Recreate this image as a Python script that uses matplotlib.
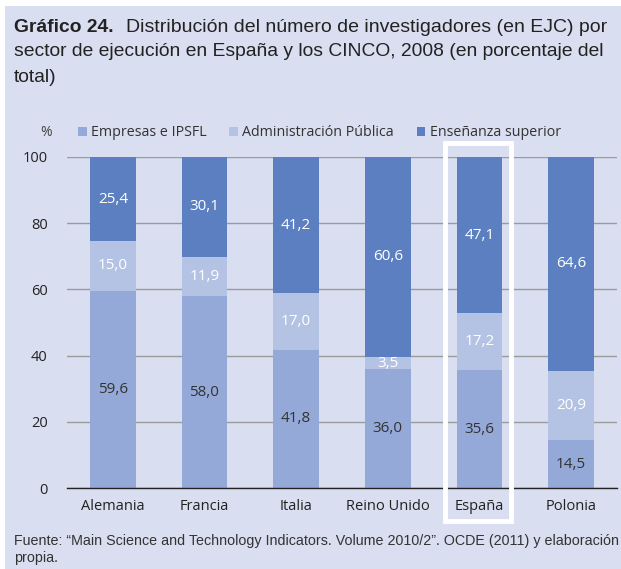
import matplotlib.pyplot as plt
import numpy as np
from matplotlib.patches import Rectangle

paises = ["Alemania", "Francia", "Italia", "Reino Unido", "España", "Polonia"]
empresas = [59.6, 58.0, 41.8, 36.0, 35.6, 14.5]
administracion = [15.0, 11.9, 17.0, 3.5, 17.2, 20.9]
ensenanza = [25.4, 30.1, 41.2, 60.6, 47.1, 64.6]
series_names = ["Empresas e IPSFL", "Administración Pública", "Enseñanza superior"]

bg = "#D9DEF0"
c_emp = "#94A9D8"
c_adm = "#B4C2E3"
c_ens = "#5B7FC0"

plt.rcParams['font.family'] = ['Open Sans', 'DejaVu Sans']

fig = plt.figure(figsize=(6.21, 5.69), dpi=100, facecolor="white")
fig.patches.append(Rectangle((5/621, 0), 1, 1 - 6/569, transform=fig.transFigure,
                             facecolor=bg, edgecolor="none", zorder=-10))

ax = fig.add_axes([67/621, 1 - 488/569, 550/621, (488 - 157)/569])
ax.patch.set_alpha(0)

x = np.arange(len(paises))
w = 0.5
emp = np.array(empresas)
adm = np.array(administracion)
ens = np.array(ensenanza)

ax.bar(x, emp, w, color=c_emp, label=series_names[0], zorder=3)
ax.bar(x, adm, w, bottom=emp, color=c_adm, label=series_names[1], zorder=3)
ax.bar(x, ens, w, bottom=emp + adm, color=c_ens, label=series_names[2], zorder=3)

def fmt(v):
    return f"{v:.1f}".replace(".", ",")

for i in range(len(paises)):
    ax.text(x[i], emp[i] / 2, fmt(emp[i]), ha="center", va="center",
            fontsize=11, color="#333333", zorder=4)
    ax.text(x[i], emp[i] + adm[i] / 2, fmt(adm[i]), ha="center", va="center",
            fontsize=11, color="white", zorder=4)
    ax.text(x[i], emp[i] + adm[i] + ens[i] / 2, fmt(ens[i]), ha="center", va="center",
            fontsize=11, color="white", zorder=4)

ax.set_xlim(-0.5, 5.5)
ax.set_ylim(0, 100)
ax.set_yticks([0, 20, 40, 60, 80, 100])
ax.set_xticks(x)
ax.set_xticklabels(paises)
ax.tick_params(axis="both", length=0, labelsize=10.5, colors="#222222")
ax.tick_params(axis="y", pad=14)
ax.tick_params(axis="x", pad=8)
ax.grid(axis="y", color="#9A9A9A", linewidth=1, zorder=1)
for s in ["top", "right", "left"]:
    ax.spines[s].set_visible(False)
ax.spines["bottom"].set_color("#222222")
ax.spines["bottom"].set_linewidth(1)
ax.spines["bottom"].set_zorder(5)

# white frame around España
ax.add_patch(Rectangle((3.62, -10.0), 0.72, 114.2, fill=False, edgecolor="white",
                       linewidth=3.5, clip_on=False, zorder=6))

ax.text(-0.73, 107.5, "%", fontsize=10, color="#444444", ha="center", va="center")

ax.legend(loc="lower left", bbox_to_anchor=(0.02, 1.05), ncol=3, frameon=False,
          fontsize=10.3, handlelength=0.6, handleheight=0.6, handletextpad=0.3,
          columnspacing=1.6, borderaxespad=0, borderpad=0, labelcolor="#333333")

tfont = ['Liberation Sans', 'DejaVu Sans']
t1b = fig.text(14/621, 1 - 27/569, "Gráfico 24.", fontsize=14, fontweight="bold",
               color="#222222", va="center", family=tfont)
t1 = fig.text(131/621, 1 - 27/569, "Distribución del número de investigadores (en EJC) por",
              fontsize=14, color="#222222", va="center", family=tfont)
t2 = fig.text(14/621, 1 - 52/569, "sector de ejecución en España y los CINCO, 2008 (en porcentaje del",
              fontsize=14, color="#222222", va="center", family=tfont)
t3 = fig.text(14/621, 1 - 77/569, "total)", fontsize=14, color="#222222", va="center",
              family=tfont)
s1 = fig.text(14/621, 1 - 541/569,
              "Fuente: \u201cMain Science and Technology Indicators. Volume 2010/2\u201d. OCDE (2011) y elaboración",
              fontsize=10, color="#333333", va="center", family=tfont)
s2 = fig.text(14/621, 1 - 558/569, "propia.", fontsize=10, color="#333333", va="center",
              family=tfont)

# shrink texts to the widths they take in the reference
fig.canvas.draw()
r = fig.canvas.get_renderer()
def fit(t, px):
    wnow = t.get_window_extent(r).width
    t.set_fontsize(t.get_fontsize() * px / wnow)

fit(t2, 591)
for t in (t1b, t1, t3):
    t.set_fontsize(t2.get_fontsize())
fit(s1, 604)
s2.set_fontsize(s1.get_fontsize())
fig.canvas.draw()
end_b = t1b.get_window_extent(r).x1
t1.set_x((end_b + 12) / 621)
fit(t1, 605 - end_b - 12)

fig.savefig("out.png", dpi=100, facecolor=fig.get_facecolor())
